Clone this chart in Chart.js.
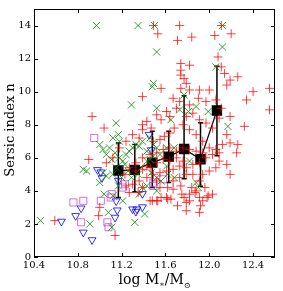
<!DOCTYPE html>
<html><head><meta charset="utf-8">
<script src="https://cdn.jsdelivr.net/npm/chart.js@4"></script>
<style>html,body{margin:0;padding:0;background:#fff}#wrap{width:283px;height:291px}</style>
</head><body><div id="wrap"><canvas id="c" width="283" height="291"></canvas></div>
<script>
const xTicks = [10.4, 10.8, 11.2, 11.6, 12.0, 12.4];
const yTicks = [0, 2, 4, 6, 8, 10, 12, 14];

const redPts = [
[11.49,14.0],[11.53,13.5],[11.73,14.0],[11.71,13.1],[11.84,13.3],[12.05,13.4],[12.11,14.0],[12.20,13.5],
[12.08,12.1],[11.74,11.7],[11.82,11.6],[11.74,11.3],[11.74,11.0],[12.11,11.5],[12.14,11.1],[12.26,10.9],
[12.19,10.7],[12.16,10.4],[12.00,10.1],[11.91,10.1],[11.82,10.1],[11.74,10.2],[11.79,10.5],[11.77,10.8],
[11.56,10.2],[11.39,9.7],[12.40,10.0],[12.55,10.2],[12.55,8.9],[12.34,9.5],[10.93,8.5],[11.04,7.8],
[12.32,7.9],[12.26,6.8],[12.25,6.3],[12.19,5.0],[11.90,9.6],[11.67,9.6],[11.73,9.4],[11.82,9.2],
[11.97,9.4],[12.06,9.5],[12.11,9.0],[12.19,8.5],[11.61,8.8],[11.52,8.6],[11.43,8.2],[11.39,8.0],
[11.39,7.7],[11.47,7.8],[11.56,8.3],[11.64,8.5],[11.70,9.0],[11.79,8.5],[11.85,8.7],[11.91,8.3],
[11.97,8.1],[12.03,7.8],[12.09,8.4],[12.16,7.4],[12.12,6.8],[12.06,6.5],[12.00,6.6],[11.94,7.0],
[11.88,7.4],[11.82,7.7],[11.76,8.0],[11.68,7.8],[11.64,7.5],[11.59,7.3],[11.55,7.1],[11.49,7.0],
[11.36,7.2],[11.30,7.4],[11.24,7.0],[11.18,6.6],[11.12,6.0],[11.06,5.7],[10.90,5.9],[11.00,3.0],
[10.99,2.5],[11.14,1.3],[10.59,2.2],[11.27,3.9],[11.35,3.9],[11.39,4.2],[11.46,3.4],[11.52,3.4],
[11.61,3.6],[11.65,3.5],[11.71,3.1],[11.77,3.6],[11.79,3.3],[11.82,3.8],[11.87,3.9],[11.91,3.6],
[11.94,3.4],[11.91,2.7],[11.99,3.7],[11.96,4.2],[11.91,4.6],[11.84,4.2],[11.67,4.1],[11.62,4.2],
[11.55,4.2],[11.67,4.6],[11.73,4.8],[11.79,5.0],[11.85,5.0],[11.94,5.0],[12.00,5.2],[12.06,5.4],
[12.09,5.8],[12.16,5.6],[12.09,6.3],[12.03,6.2],[11.97,6.0],[11.91,5.7],[11.85,5.6],[11.79,5.4],
[11.73,5.5],[11.67,5.3],[11.61,5.2],[11.55,5.1],[11.49,5.0],[11.43,4.8],[11.36,4.6],[11.30,4.4],
[11.24,4.3],[11.23,5.0],[11.27,5.4],[11.33,5.7],[11.39,6.0],[11.46,6.2],[11.52,6.3],[11.58,6.5],
[11.64,6.6],[11.70,6.4],[11.76,6.6],[11.82,6.5],[11.88,6.4],[11.94,6.3],[11.58,5.9],[11.64,5.8],
[11.70,6.0],[11.76,5.8],[11.52,5.7],[11.46,5.4],[11.39,5.3],[11.33,5.2],[11.43,5.5],[11.79,2.8],
[11.88,4.0],[12.03,3.8],[11.92,3.1],[11.74,4.3],[11.52,4.6],[11.56,3.6],[12.19,6.9],[11.98,3.6],
[11.82,3.4],[11.75,3.8],[11.62,3.5],[11.53,3.4],[11.48,3.4]
];

const greenPts = [
[10.46,2.2],[10.97,14.0],[11.35,14.0],[11.50,14.0],[12.12,14.0],[11.52,12.4],[12.12,12.7],[11.49,10.5],
[11.48,10.3],[11.29,9.2],[11.52,9.0],[11.77,9.8],[12.17,7.9],[11.88,9.1],[11.99,8.8],[12.06,11.5],
[11.81,8.8],[11.73,8.9],[11.65,8.3],[11.68,6.6],[11.82,5.8],[11.68,4.8],[11.88,4.5],[11.90,4.2],
[11.15,8.1],[10.85,5.3],[10.88,5.2],[10.91,2.0],[11.32,2.1],[11.41,2.6],[11.08,2.7],[11.11,1.8],
[11.00,6.8],[11.03,6.5],[11.06,6.2],[11.09,6.6],[11.11,5.9],[11.14,6.3],[11.00,4.5],[11.03,5.1],
[11.06,4.9],[11.12,5.0],[11.15,5.4],[11.18,6.0],[11.21,5.8],[11.24,6.2],[11.27,6.4],[11.30,6.6],
[11.33,6.8],[11.36,6.7],[11.39,7.0],[11.43,6.4],[11.46,7.2],[11.49,6.8],[11.52,6.6],[11.55,6.2],
[11.23,5.6],[11.26,5.2],[11.29,4.8],[11.35,5.0],[11.38,5.4],[11.43,5.8],[11.47,5.1],[11.52,4.8],
[11.56,4.6],[11.39,4.2],[11.36,3.8],[11.43,4.3],[11.17,4.3],[11.21,3.4],[11.52,4.0],[11.62,5.0],
[11.61,5.5],[11.61,6.6],[11.17,7.4],[11.18,7.0],[11.12,7.2],[11.04,3.8],[11.20,4.8],[11.12,3.7],
[11.46,5.9],[11.49,6.1]
];

const purplePts = [
[10.95,7.2],[10.76,3.3],[10.85,3.4],[10.83,2.1],[11.01,3.4],[11.11,3.8],[11.10,3.6],[11.07,2.1],
[11.08,1.8],[11.21,4.2],[11.23,4.4],[11.49,4.5],[11.58,4.7],[11.49,4.3]
];

const bluePts = [
[10.65,2.15],[10.78,2.49],[10.83,2.95],[10.85,1.49],[10.93,1.03],[10.98,5.27],[11.01,5.13],[11.02,4.78],
[11.15,3.38],[11.16,2.83],[11.14,2.39],[11.17,4.62],[11.30,2.89],[11.33,2.75],[11.34,2.89],[11.39,3.02],
[11.39,3.82],[11.45,7.40],[11.47,6.47]
];

const meanX = [11.17, 11.32, 11.48, 11.63, 11.77, 11.92, 12.07];
const meanY = [5.23, 5.27, 5.71, 6.07, 6.53, 5.91, 8.86];
const meanHi = [6.9, 6.8, 7.6, 7.6, 9.75, 8.12, 11.54];
const meanLo = [3.6, 3.95, 4.2, 4.5, 4.74, 4.28, 6.13];

const toXY = a => a.map(p => ({x: p[0], y: p[1]}));
const SERIF = '"DejaVu Serif", serif';

const errPlugin = {
  id: 'err',
  beforeDatasetDraw(chart, args) {
    if (args.index !== 4) return;
    const ctx = chart.ctx, xs = chart.scales.x, ys = chart.scales.y;
    ctx.save();
    ctx.strokeStyle = '#000'; ctx.lineWidth = 1.5;
    for (let i = 0; i < meanX.length; i++) {
      const px = xs.getPixelForValue(meanX[i]);
      const pt = ys.getPixelForValue(meanHi[i]);
      const pb = ys.getPixelForValue(meanLo[i]);
      ctx.beginPath();
      ctx.moveTo(px, pt); ctx.lineTo(px, pb);
      ctx.moveTo(px - 2.5, pt); ctx.lineTo(px + 2.5, pt);
      ctx.moveTo(px - 2.5, pb); ctx.lineTo(px + 2.5, pb);
      ctx.stroke();
    }
    ctx.restore();
  }
};

const framePlugin = {
  id: 'frame',
  afterDraw(chart) {
    const ctx = chart.ctx, a = chart.chartArea, xs = chart.scales.x, ys = chart.scales.y;
    ctx.save();
    ctx.strokeStyle = '#000'; ctx.lineWidth = 1;
    ctx.strokeRect(Math.round(a.left) + 0.5, Math.round(a.top) + 0.5, Math.round(a.right - a.left) - 1, Math.round(a.bottom - a.top) - 1);
    ctx.beginPath();
    const L = 4;
    xTicks.forEach(v => {
      const px = Math.round(xs.getPixelForValue(v)) + 0.5;
      ctx.moveTo(px, a.bottom); ctx.lineTo(px, a.bottom - L);
      ctx.moveTo(px, a.top); ctx.lineTo(px, a.top + L);
    });
    yTicks.forEach(v => {
      const py = Math.round(ys.getPixelForValue(v)) + 0.5;
      ctx.moveTo(a.left, py); ctx.lineTo(a.left + L, py);
      ctx.moveTo(a.right, py); ctx.lineTo(a.right - L, py);
    });
    ctx.stroke();
    // y title
    ctx.fillStyle = '#000';
    ctx.font = '13px ' + SERIF;
    ctx.textAlign = 'center'; ctx.textBaseline = 'middle';
    ctx.save();
    ctx.translate(11, (a.top + a.bottom) / 2 - 3);
    ctx.rotate(-Math.PI / 2);
    ctx.fillText('Sersic index n', 0, 0);
    ctx.restore();
    // x title with subscripts
    const parts = [['log M', 14, 0], ['∗', 8, 3], ['/M', 14, 0], ['⊙', 8, 4]];
    let total = 0;
    parts.forEach(p => { ctx.font = p[1] + 'px ' + SERIF; total += ctx.measureText(p[0]).width; });
    let x = (a.left + a.right) / 2 - total / 2;
    const base = 284;
    ctx.textAlign = 'left'; ctx.textBaseline = 'alphabetic';
    parts.forEach(p => {
      ctx.font = p[1] + 'px ' + SERIF;
      ctx.fillText(p[0], x, base + p[2]);
      x += ctx.measureText(p[0]).width;
    });
    ctx.restore();
  }
};

new Chart(document.getElementById('c'), {
  type: 'scatter',
  data: {
    datasets: [
      { data: toXY(redPts), pointStyle: 'cross', radius: 4.5, borderColor: 'rgba(255,0,0,0.75)', borderWidth: 1, backgroundColor: 'transparent' },
      { data: toXY(greenPts), pointStyle: 'crossRot', radius: 5, borderColor: 'rgba(0,140,0,0.8)', borderWidth: 1, backgroundColor: 'transparent' },
      { data: toXY(purplePts), pointStyle: 'rect', radius: 5, borderColor: 'rgba(200,60,210,0.75)', borderWidth: 1, backgroundColor: 'transparent' },
      { data: toXY(bluePts), pointStyle: 'triangle', rotation: 180, radius: 4.5, borderColor: 'rgba(0,0,255,0.8)', borderWidth: 1, backgroundColor: 'transparent' },
      { data: meanX.map((v, i) => ({x: v, y: meanY[i]})), showLine: true, borderColor: '#000', borderWidth: 1.2, pointStyle: 'rect', radius: 6.5, pointBackgroundColor: '#000', pointBorderColor: '#000', backgroundColor: '#000' }
    ]
  },
  options: {
    responsive: false, animation: false, devicePixelRatio: 1,
    layout: { padding: { top: 5, right: 8, left: 0, bottom: 0 } },
    plugins: { legend: { display: false }, tooltip: { enabled: false } },
    scales: {
      x: {
        type: 'linear', min: 10.4, max: 12.6,
        afterBuildTicks: s => { s.ticks = xTicks.map(v => ({value: v})); },
        afterFit: s => { s.height = 34; },
        grid: { display: false, drawTicks: false }, border: { display: false },
        ticks: { padding: 2, color: '#000', font: { family: SERIF, size: 10 }, callback: v => Number(v).toFixed(1), maxRotation: 0, autoSkip: false }
      },
      y: {
        type: 'linear', min: 0, max: 15,
        afterBuildTicks: s => { s.ticks = yTicks.map(v => ({value: v})); },
        afterFit: s => { s.width = 34; },
        grid: { display: false, drawTicks: false }, border: { display: false },
        ticks: { padding: 3, color: '#000', font: { family: SERIF, size: 10 }, callback: v => String(v), autoSkip: false }
      }
    }
  },
  plugins: [errPlugin, framePlugin]
});
</script>
</body></html>
